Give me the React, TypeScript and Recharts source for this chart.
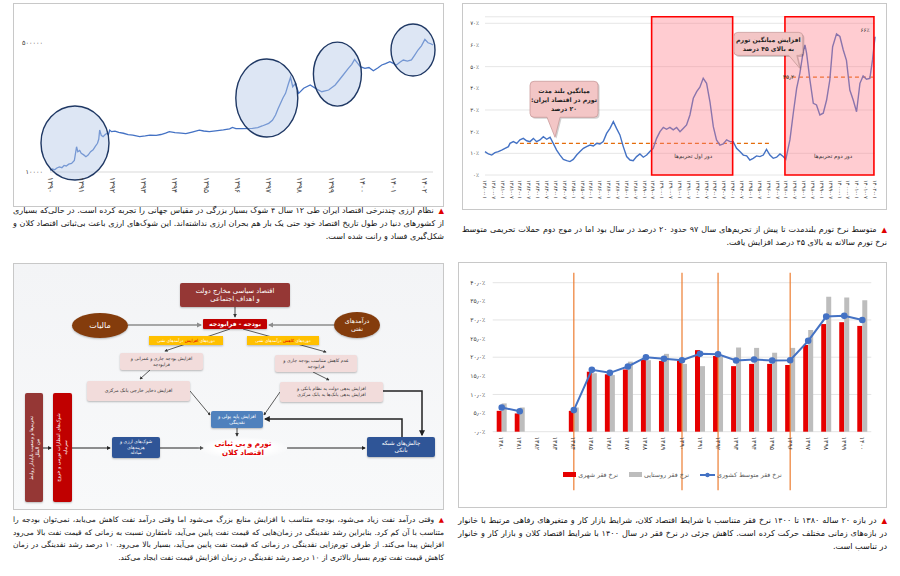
import React from 'react';
import {
  Bar,
  CartesianGrid,
  ComposedChart,
  Legend,
  Line,
  LineChart,
  ReferenceArea,
  ReferenceDot,
  ReferenceLine,
  XAxis,
  YAxis,
} from 'recharts';

const FA_FONT = '"DejaVu Sans", "Noto Sans", sans-serif';
const FA_DIGITS = '۰۱۲۳۴۵۶۷۸۹';
const toFa = (v: string | number) => String(v).replace(/[0-9]/g, (d) => FA_DIGITS[Number(d)]);

// ---------- exchange rate (rial per dollar), 1390 - 1402
const fxYears = [
  1390.0, 1390.08, 1390.15, 1390.22, 1390.3, 1390.38, 1390.45, 1390.52, 1390.6, 1390.69,
  1390.78, 1390.85, 1390.89, 1390.95, 1391.0, 1391.08, 1391.15, 1391.22, 1391.3, 1391.38,
  1391.45, 1391.52, 1391.56, 1391.59, 1391.64, 1391.7, 1391.76, 1391.82, 1391.87, 1391.91,
  1391.97, 1392.08, 1392.2, 1392.35, 1392.5, 1392.65, 1392.87, 1393.05, 1393.2, 1393.4,
  1393.55, 1393.7, 1393.82, 1394.0, 1394.2, 1394.35, 1394.55, 1394.78, 1394.92, 1395.1,
  1395.3, 1395.55, 1395.75, 1395.84, 1395.95, 1396.15, 1396.48, 1396.65, 1396.79, 1397.0,
  1397.12, 1397.22, 1397.3, 1397.38, 1397.46, 1397.54, 1397.62, 1397.7, 1397.77, 1397.86,
  1397.96, 1398.12, 1398.33, 1398.49, 1398.7, 1398.92, 1399.13, 1399.34, 1399.55, 1399.66,
  1399.75, 1399.85, 1399.93, 1400.08, 1400.21, 1400.35, 1400.49, 1400.62, 1400.74, 1400.88,
  1400.99, 1401.09, 1401.2, 1401.31, 1401.44, 1401.57, 1401.68, 1401.78, 1401.89, 1402.0,
  1402.1, 1402.19, 1402.26,
];
const fxRates = [
  10600, 11000, 10700, 11300, 11700, 11400, 12200, 12000, 12700, 13000,
  14200, 21500, 18500, 19200, 17600, 16800, 15900, 16700, 18500, 19600,
  21800, 23900, 27000, 35700, 30500, 29200, 31000, 32400, 31000, 35700,
  34000, 34600, 33200, 32400, 31000, 30700, 29200, 29900, 30700, 30300,
  31200, 32500, 34000, 33000, 32600, 32000, 33600, 35700, 34700, 34000,
  34900, 35900, 37000, 38600, 37200, 37300, 37600, 38500, 40400, 43800,
  48000, 56300, 68000, 80400, 95000, 108800, 140000, 177000, 133000, 147600,
  108800, 126800, 140000, 126800, 114300, 120300, 140000, 180000, 232000, 262000,
  305000, 270000, 244000, 232000, 238000, 216000, 235000, 257000, 268000, 284000,
  270000, 257000, 280000, 299000, 290000, 300000, 350000, 405000, 460000, 560000,
  505000, 490000, 471000,
];
const fxYearTicks = [1390, 1391, 1392, 1393, 1394, 1395, 1396, 1397, 1398, 1399, 1400, 1401, 1402];
const fxRateTicks = [10000, 500000];
// centres of the four currency shocks
const shockYears = [1390.8, 1396.94, 1399.2, 1401.62];
const shockRates = [24100, 94400, 195000, 405000];
const SHOCK_RX = [34, 31, 24, 22];
const SHOCK_RY = [37, 39, 32, 26];

// ---------- inflation (%), 1380 - 1402
const inflTime = [
  1380.0, 1380.19, 1380.38, 1380.56, 1380.75, 1380.94, 1381.13, 1381.32, 1381.41, 1381.6,
  1381.79, 1381.97, 1382.16, 1382.35, 1382.54, 1382.73, 1382.91, 1383.1, 1383.29, 1383.48,
  1383.67, 1383.85, 1384.04, 1384.23, 1384.42, 1384.61, 1384.79, 1384.98, 1385.17, 1385.36,
  1385.55, 1385.73, 1385.92, 1386.11, 1386.3, 1386.48, 1386.67, 1386.86, 1387.05, 1387.24,
  1387.42, 1387.61, 1387.8, 1387.99, 1388.18, 1388.36, 1388.55, 1388.74, 1388.93, 1389.12,
  1389.3, 1389.49, 1389.68, 1389.87, 1390.06, 1390.24, 1390.43, 1390.62, 1390.81, 1391.0,
  1391.18, 1391.37, 1391.56, 1391.75, 1391.94, 1392.12, 1392.31, 1392.5, 1392.69, 1392.88,
  1393.06, 1393.25, 1393.44, 1393.63, 1393.82, 1394.0, 1394.19, 1394.38, 1394.57, 1394.76,
  1394.94, 1395.13, 1395.32, 1395.51, 1395.7, 1395.88, 1396.07, 1396.26, 1396.45, 1396.64,
  1396.82, 1396.97, 1397.2, 1397.39, 1397.58, 1397.76, 1397.95, 1398.05, 1398.14, 1398.33,
  1398.52, 1398.7, 1398.89, 1399.08, 1399.27, 1399.45, 1399.61, 1399.83, 1400.02, 1400.21,
  1400.39, 1400.58, 1400.77, 1400.96, 1401.15, 1401.33, 1401.52, 1401.71, 1401.86, 1402.0,
];
const inflRate = [
  10.8, 9.7, 9.2, 10.3, 10.8, 11.5, 12.3, 13.1, 14.6, 15.4,
  14.6, 16.2, 16.9, 15.8, 15.4, 16.9, 15.4, 16.2, 17.7, 16.5,
  17.4, 14.6, 11.5, 9.2, 7.2, 6.6, 6.2, 7.2, 9.2, 10.8,
  12.3, 13.1, 13.8, 13.4, 14.6, 14.3, 15.4, 19.2, 21.5, 24.6,
  21.5, 18.5, 13.1, 8.5, 6.9, 6.6, 8.5, 9.7, 8.2, 9.2,
  10.8, 12.3, 16.9, 20.0, 22.0, 21.1, 22.0, 20.8, 21.9, 20.0,
  21.5, 23.1, 27.7, 35.4, 38.5, 40.5, 44.6, 42.3, 33.8, 22.3,
  16.2, 13.8, 14.3, 16.2, 15.4, 15.4, 12.3, 10.8, 9.2, 8.8,
  6.9, 7.7, 8.8, 8.5, 9.2, 11.8, 9.2, 7.7, 8.2, 9.7,
  8.5, 7.2, 16.2, 28.5, 40.0, 46.9, 56.9, 60.0, 56.2, 43.8,
  33.1, 32.3, 27.7, 28.5, 34.6, 43.8, 59.2, 65.1, 63.9, 57.7,
  52.9, 39.2, 34.6, 29.2, 42.3, 45.7, 44.2, 44.6, 53.1, 63.8,
];
const inflTicks = [
  1380, 1380.5, 1381, 1381.5, 1382, 1382.5, 1383, 1383.5, 1384, 1384.5, 1385, 1385.5,
  1386, 1386.5, 1387, 1387.5, 1388, 1388.5, 1389, 1389.5, 1390, 1390.5, 1391, 1391.5,
  1392, 1392.5, 1393, 1393.5, 1394, 1394.5, 1395, 1395.5, 1396, 1396.5, 1397, 1397.5,
  1398, 1398.5, 1399, 1399.5, 1400, 1400.5, 1401, 1401.5, 1402,
];
const inflRateTicks = [0, 10, 20, 30, 40, 50, 60, 70];
const sanctionRounds = [
  { from: 1389.4, to: 1393.97, title: 'دور اول تحریم‌ها', at: 1391.75 },
  { from: 1396.92, to: 1401.94, title: 'دور دوم تحریم‌ها', at: 1399.64 },
];
const longRunAvg = { from: 1381.97, to: 1396.1, value: 14.6 };
const secondRoundAvg = { from: 1396.92, to: 1401.9, value: 45.2 };

// ---------- poverty rate (%), 1380 - 1400
const povertyYears = [
  '1380', '1381', '1382', '1383', '1384', '1385', '1386', '1387', '1388', '1389', '1390',
  '1391', '1392', '1393', '1394', '1395', '1396', '1397', '1398', '1399', '1400',
];
const urbanPoverty = [5.6, 4.9, null, null, 5.6, 16.1, 15.4, 16.7, 19.4, 19.0, 19.1, 21.9, 20.3, 17.6, 18.2, 18.2, 17.9, 23.3, 28.9, 29.4, 28.4];
const ruralPoverty = [7.6, 6.5, null, null, 6.5, 15.7, 15.2, 18.8, 19.2, 20.9, 18.2, 17.6, 20.1, 22.6, 22.5, 21.2, 22.5, 27.3, 36.2, 36.0, 35.3];
const nationalPoverty = [6.5, 5.5, null, null, 5.8, 16.6, 15.8, 17.5, 20.0, 19.6, 19.2, 20.9, 20.8, 19.1, 19.4, 19.1, 19.2, 24.4, 30.9, 31.1, 30.0];
const povertyTicks = [0, 5, 10, 15, 20, 25, 30, 35, 40];
const povertySeriesNames = ['نرخ فقر شهری', 'نرخ فقر روستایی', 'نرخ فقر متوسط کشوری'];
const breakYears = ['1384', '1390', '1392', '1396'];

// ---------- helpers
const RotTick = (props: any) => {
  const { x, y, payload, size = 6.5, fmt } = props;
  const label = fmt ? fmt(payload.value) : toFa(payload.value);
  return (
    <text
      x={x}
      y={y}
      transform={`rotate(90 ${x} ${y})`}
      textAnchor="start"
      dominantBaseline="central"
      fontSize={size}
      fill="#3a3a3a"
      fontFamily={FA_FONT}
    >
      {label}
    </text>
  );
};

const halfYearLabel = (t: number) => `${toFa(Math.floor(t))}-${t % 1 ? '۰۷' : '۰۱'}`;

const Panel = ({ left, top, width, height, bg = '#fff', children }: any) => (
  <div
    style={{
      position: 'absolute',
      left,
      top,
      width,
      height,
      boxSizing: 'border-box',
      border: '1px solid #c8c8c8',
      background: bg,
    }}
  >
    <div style={{ position: 'absolute', left: -1, top: -1 }}>{children}</div>
  </div>
);

const Caption = ({ left, top, width, fontSize, lineHeight, children }: any) => (
  <div style={{ position: 'absolute', left, top, width }}>
    <span
      style={{
        position: 'absolute',
        right: 0,
        top: 0,
        lineHeight: `${lineHeight}px`,
        color: '#e00000',
        fontSize: fontSize * 0.9,
        fontFamily: FA_FONT,
      }}
    >
      ▲
    </span>
    <div
      dir="rtl"
      style={{
        fontSize,
        lineHeight: `${lineHeight}px`,
        textAlign: 'justify',
        textIndent: fontSize * 1.3,
        color: '#111',
        fontFamily: FA_FONT,
      }}
    >
      {children}
    </div>
  </div>
);

// ---------- top left: exchange rate
const ExchangeRateChart = () => {
  const data = fxYears.map((t, i) => ({ t, rate: fxRates[i] }));
  return (
    <LineChart width={431} height={204} data={data} margin={{ top: 20.7, right: 11, bottom: 5, left: 0 }}>
      <XAxis
        dataKey="t"
        type="number"
        domain={[1390, 1402.25]}
        ticks={fxYearTicks}
        interval={0}
        tick={<RotTick size={7.5} />}
        tickSize={0}
        tickMargin={5}
        axisLine={{ stroke: '#d9d9d9' }}
        height={30}
      />
      <YAxis
        type="number"
        scale="log"
        domain={[10000, 900000]}
        ticks={fxRateTicks}
        tickFormatter={(v) => toFa(v)}
        axisLine={false}
        tickSize={0}
        tickMargin={7}
        width={37}
        tick={{ fontSize: 6.5, fill: '#3a3a3a', fontFamily: FA_FONT }}
        allowDataOverflow
      />
      <Line type="linear" dataKey="rate" stroke="#4472c4" strokeWidth={1.3} dot={false} isAnimationActive={false} />
      {shockYears.map((yr, i) => (
        <ReferenceDot
          key={yr}
          x={yr}
          y={shockRates[i]}
          r={1}
          ifOverflow="visible"
          shape={(p: any) => (
            <ellipse
              cx={p.cx}
              cy={p.cy}
              rx={SHOCK_RX[i]}
              ry={SHOCK_RY[i]}
              fill="#b4c7e7"
              fillOpacity={0.45}
              stroke="#1f3864"
              strokeWidth={1.4}
            />
          )}
        />
      ))}
    </LineChart>
  );
};

// ---------- top right: inflation
const calloutShape =
  (lines: string[], box: number[], base: number[]) =>
  (props: any) => {
    const { cx, cy } = props;
    const [x0, y0, x1, y1] = box.map((v, i) => (i % 2 === 0 ? cx + v : cy + v));
    const b0 = cx + base[0];
    const b1 = cx + base[1];
    const r = 4;
    const d = `M${x0 + r},${y0} H${x1 - r} Q${x1},${y0} ${x1},${y0 + r} V${y1 - r} Q${x1},${y1} ${x1 - r},${y1} H${b1} L${cx},${cy} L${b0},${y1} H${x0 + r} Q${x0},${y1} ${x0},${y1 - r} V${y0 + r} Q${x0},${y0} ${x0 + r},${y0} Z`;
    const lh = 9;
    const mid = (y0 + y1) / 2 - ((lines.length - 1) * lh) / 2;
    return (
      <g>
        <path d={d} fill="#000" fillOpacity={0.18} transform="translate(1.5 1.5)" />
        <path d={d} fill="#f3c6c6" stroke="#c99a9a" strokeWidth={0.8} />
        {lines.map((l, i) => (
          <text
            key={l}
            x={(x0 + x1) / 2}
            y={mid + i * lh}
            textAnchor="middle"
            dominantBaseline="central"
            direction="rtl"
            fontSize={6.2}
            fontWeight="bold"
            fill="#1d1d1d"
            fontFamily={FA_FONT}
          >
            {l}
          </text>
        ))}
      </g>
    );
  };

const textShape =
  (label: string, size: number, anchor: 'start' | 'middle' | 'end' = 'middle', color = '#333') =>
  (p: any) => (
    <text
      x={p.cx}
      y={p.cy}
      textAnchor={anchor}
      dominantBaseline="central"
      direction="rtl"
      fontSize={size}
      fill={color}
      fontFamily={FA_FONT}
    >
      {label}
    </text>
  );

const InflationChart = () => {
  const data = inflTime.map((t, i) => ({ t, rate: inflRate[i] }));
  return (
    <LineChart width={425} height={207} data={data} margin={{ top: 13.8, right: 12, bottom: 3, left: 0 }}>
      <CartesianGrid vertical={false} stroke="#e6e6e6" />
      <XAxis
        dataKey="t"
        type="number"
        domain={[1380, 1402]}
        ticks={inflTicks}
        interval={0}
        tick={<RotTick size={5.3} fmt={halfYearLabel} />}
        tickSize={0}
        tickMargin={5}
        axisLine={false}
        height={32}
      />
      <YAxis
        type="number"
        domain={[0, 73]}
        ticks={inflRateTicks}
        tickFormatter={(v) => `${toFa(v)}٪`}
        axisLine={false}
        tickSize={0}
        tickMargin={6}
        width={23}
        tick={{ fontSize: 5.5, fill: '#3a3a3a', fontFamily: FA_FONT }}
      />
      <ReferenceLine
        segment={[
          { x: longRunAvg.from, y: longRunAvg.value },
          { x: longRunAvg.to, y: longRunAvg.value },
        ]}
        stroke="#e46c0a"
        strokeDasharray="4 3"
        strokeWidth={1.2}
      />
      <ReferenceLine
        segment={[
          { x: secondRoundAvg.from, y: secondRoundAvg.value },
          { x: secondRoundAvg.to, y: secondRoundAvg.value },
        ]}
        stroke="#e46c0a"
        strokeDasharray="4 3"
        strokeWidth={1.2}
      />
      <Line type="linear" dataKey="rate" stroke="#4472c4" strokeWidth={1.4} dot={false} isAnimationActive={false} />
      {sanctionRounds.map((s) => (
        <ReferenceArea
          key={s.from}
          x1={s.from}
          x2={s.to}
          y1={0}
          y2={73}
          fill="#ff7a86"
          fillOpacity={0.38}
          stroke="#ff0000"
          strokeWidth={1.6}
          ifOverflow="visible"
          zIndex={500}
        />
      ))}
      {sanctionRounds.map((s) => (
        <ReferenceDot key={s.title} x={s.at} y={8.8} r={1} shape={textShape(s.title, 5.6)} zIndex={600} />
      ))}
      <ReferenceDot x={1401.43} y={66.9} r={1} shape={textShape('۶۶٪', 5.6)} zIndex={600} />
      <ReferenceDot
        x={secondRoundAvg.from}
        y={secondRoundAvg.value}
        r={1}
        zIndex={600}
        shape={(p: any) => textShape(toFa('45.2').replace('.', '٫'), 5.8, 'end')({ cx: p.cx - 2, cy: p.cy })}
      />
      <ReferenceDot
        x={1383.95}
        y={17.4}
        r={1}
        ifOverflow="visible"
        zIndex={600}
        shape={calloutShape(['میانگین بلند مدت', 'تورم در اقتصاد ایران:', '۲۰ درصد'], [-25, -56, 43, -20], [-8, 5])}
      />
      <ReferenceDot
        x={1397.76}
        y={49.2}
        r={1}
        ifOverflow="visible"
        zIndex={600}
        shape={calloutShape(['افزایش میانگین تورم', 'به بالای ۴۵ درصد'], [-66, -36, 3, -13], [-11, -3])}
      />
    </LineChart>
  );
};

// ---------- bottom right: poverty
const PovertyLegend = ({ payload }: any) => {
  const items = [...(payload || [])].sort(
    (a: any, b: any) => povertySeriesNames.indexOf(a.value) - povertySeriesNames.indexOf(b.value),
  );
  return (
    <div
      style={{
        display: 'flex',
        justifyContent: 'center',
        gap: 11,
        fontFamily: FA_FONT,
        fontSize: 6.3,
        color: '#595959',
      }}
    >
      {items.map((e: any) => (
        <div key={e.value} style={{ display: 'flex', alignItems: 'center', gap: 2 }}>
          {e.type === 'line' ? (
            <svg width={15} height={6}>
              <line x1={0} y1={3} x2={15} y2={3} stroke={e.color} strokeWidth={2} />
              <circle cx={7.5} cy={3} r={2.2} fill={e.color} />
            </svg>
          ) : (
            <span style={{ display: 'inline-block', width: 13, height: 5, background: e.color }} />
          )}
          <span dir="rtl">{e.value}</span>
        </div>
      ))}
    </div>
  );
};

const PovertyChart = () => {
  const data = povertyYears.map((y, i) => ({
    year: y,
    urban: urbanPoverty[i],
    rural: ruralPoverty[i],
    national: nationalPoverty[i],
  }));
  return (
    <ComposedChart
      width={429}
      height={246}
      data={data}
      margin={{ top: 20.7, right: 15.7, bottom: 56.3, left: 0 }}
      barGap={0}
    >
      <CartesianGrid vertical={false} stroke="#e4e4e4" />
      <XAxis
        dataKey="year"
        interval={0}
        tick={<RotTick size={6.3} />}
        tickSize={0}
        tickMargin={5}
        axisLine={false}
        height={20}
      />
      <YAxis
        type="number"
        domain={[0, 40]}
        ticks={povertyTicks}
        tickFormatter={(v) => `${toFa(v.toFixed(1)).replace('.', '٫')}٪`}
        axisLine={false}
        tickSize={0}
        tickMargin={7.5}
        width={34.7}
        tick={{ fontSize: 6, fill: '#3a3a3a', fontFamily: FA_FONT }}
      />
      <Bar dataKey="urban" name={povertySeriesNames[0]} fill="#e60000" barSize={5} legendType="rect" isAnimationActive={false} />
      <Bar dataKey="rural" name={povertySeriesNames[1]} fill="#bdbdbd" barSize={5} legendType="rect" isAnimationActive={false} />
      <Line
        type="linear"
        dataKey="national"
        name={povertySeriesNames[2]}
        stroke="#4472c4"
        strokeWidth={2}
        dot={{ r: 2.3, fill: '#4472c4', stroke: '#4472c4' }}
        legendType="line"
        isAnimationActive={false}
      />
      {breakYears.map((y) => (
        <ReferenceLine
          key={y}
          segment={[
            { x: y, y: 42.7 },
            { x: y, y: -15.7 },
          ]}
          stroke="#ed7d31"
          strokeWidth={1.2}
          ifOverflow="visible"
        />
      ))}
      <Legend
        layout="horizontal"
        align="center"
        verticalAlign="middle"
        content={<PovertyLegend />}
        wrapperStyle={{ top: 209, left: 0, width: 429 }}
      />
    </ComposedChart>
  );
};

// ---------- bottom left: oil revenue diagram
const Box = ({ x, y, w, h, bg, color = '#fff', fs, bold = false, radius = 2, children }: any) => (
  <div
    dir="rtl"
    style={{
      position: 'absolute',
      left: x,
      top: y,
      width: w,
      height: h,
      background: bg,
      color,
      fontSize: fs,
      fontWeight: bold ? 'bold' : 'normal',
      borderRadius: radius,
      display: 'flex',
      alignItems: 'center',
      justifyContent: 'center',
      textAlign: 'center',
      lineHeight: 1.25,
      boxShadow: '0 1px 2px rgba(0,0,0,0.25)',
    }}
  >
    <div>{children}</div>
  </div>
);

const VBox = ({ x, y, w, h, bg, fs, children }: any) => (
  <div
    style={{
      position: 'absolute',
      left: x,
      top: y,
      width: w,
      height: h,
      background: bg,
      borderRadius: 2,
      boxShadow: '0 1px 2px rgba(0,0,0,0.25)',
    }}
  >
    <div
      dir="rtl"
      style={{
        position: 'absolute',
        left: (w - h) / 2,
        top: (h - w) / 2,
        width: h,
        height: w,
        transform: 'rotate(-90deg)',
        display: 'flex',
        alignItems: 'center',
        justifyContent: 'center',
        textAlign: 'center',
        color: '#fff',
        fontSize: fs,
        lineHeight: 1.3,
      }}
    >
      <div>{children}</div>
    </div>
  </div>
);

const arrows: { d: string; c: string; w: number }[] = [
  { d: 'M235,307 L235,317', c: '#333', w: 0.9 },
  { d: 'M128,325 L201,325', c: '#8c8c8c', w: 1.4 },
  { d: 'M334,325 L269,325', c: '#8c8c8c', w: 1.4 },
  { d: 'M230,329 L165,351', c: '#333', w: 0.8 },
  { d: 'M243,329 L326,352', c: '#333', w: 0.8 },
  { d: 'M150,370 L140,379', c: '#333', w: 0.8 },
  { d: 'M313,372 L329,380', c: '#333', w: 0.8 },
  { d: 'M190,391 L210,415', c: '#333', w: 0.8 },
  { d: 'M280,392 L264,415', c: '#333', w: 0.8 },
  { d: 'M383,391 L422,391 L422,435', c: '#222', w: 1.5 },
  { d: 'M402,437 L402,419 L265,419', c: '#222', w: 1.5 },
  { d: 'M237,428 L237,436', c: '#333', w: 0.9 },
  { d: 'M43,448 L51,448', c: '#222', w: 1 },
  { d: 'M72,448 L110,448', c: '#222', w: 1 },
  { d: 'M160,448 L203,448', c: '#222', w: 1 },
  { d: 'M287,448 L365,448', c: '#222', w: 1 },
];

const OilDiagram = () => (
  <div style={{ position: 'absolute', left: 0, top: 0, width: 900, height: 576, fontFamily: FA_FONT }}>
    <svg width={900} height={576} style={{ position: 'absolute', left: 0, top: 0 }}>
      <defs>
        <marker id="ah" viewBox="0 0 10 10" refX="8" refY="5" markerWidth="4" markerHeight="4" orient="auto">
          <path d="M0,0 L10,5 L0,10 Z" fill="context-stroke" />
        </marker>
        <radialGradient id="glow">
          <stop offset="60%" stopColor="#fff" stopOpacity={1} />
          <stop offset="100%" stopColor="#fff" stopOpacity={0} />
        </radialGradient>
      </defs>
      {arrows.map((a) => (
        <path key={a.d} d={a.d} fill="none" stroke={a.c} strokeWidth={a.w} markerEnd="url(#ah)" />
      ))}
      <ellipse cx={243} cy={448} rx={46} ry={11} fill="url(#glow)" />
    </svg>
    <Box x={180} y={283} w={110} h={24} bg="#953735" fs={6.8}>
      اقتصاد سیاسی مخارج دولت
      <br />و اهداف اجتماعی
    </Box>
    <Box x={203} y={319} w={64} h={10} bg="#c00000" fs={6.2} bold radius={1}>
      بودجه - فرابودجه
    </Box>
    <Box x={72} y={313} w={56} h={25} bg="#843c0c" fs={8} radius={'50%'}>
      مالیات
    </Box>
    <Box x={334} y={312} w={46} h={26} bg="#843c0c" fs={6.3} radius={'50%'}>
      درآمدهای
      <br />
      نفتی
    </Box>
    <Box x={149} y={336} w={74} h={9} bg="#ffc000" fs={4.3} radius={0}>
      دوره‌های <span style={{ color: '#e00000' }}>افزایش</span> درآمدهای نفتی
    </Box>
    <Box x={247} y={336} w={72} h={9} bg="#ffc000" fs={4.3} radius={0}>
      دوره‌های <span style={{ color: '#e00000' }}>کاهش</span> درآمدهای نفتی
    </Box>
    <Box x={120} y={353} w={83} h={17} bg="#f2dcdb" color="#333" fs={4.6}>
      افزایش بودجه جاری و عمرانی و
      <br />
      فرابودجه
    </Box>
    <Box x={275} y={355} w={82} h={17} bg="#f2dcdb" color="#333" fs={4.6}>
      عدم کاهش متناسب بودجه جاری و
      <br />
      فرابودجه
    </Box>
    <Box x={87} y={381} w={103} h={20} bg="#f2dcdb" color="#333" fs={4.8}>
      افزایش ذخایر خارجی بانک مرکزی
    </Box>
    <Box x={280} y={382} w={103} h={20} bg="#f2dcdb" color="#333" fs={4.6}>
      افزایش بدهی دولت به نظام بانکی و
      <br />
      افزایش بدهی بانک‌ها به بانک مرکزی
    </Box>
    <Box x={211} y={411} w={52} h={17} bg="#4f81bd" fs={4.8}>
      افزایش پایه پولی و
      <br />
      نقدینگی
    </Box>
    <Box x={112} y={437} w={48} h={21} bg="#2f5597" fs={4.6}>
      شوک‌های ارزی و
      <br />
      هزینه‌های
      <br />
      مبادله
    </Box>
    <Box x={367} y={437} w={68} h={20} bg="#2f5597" fs={5.8}>
      چالش‌های شبکه
      <br />
      بانکی
    </Box>
    <div
      dir="rtl"
      style={{
        position: 'absolute',
        left: 200,
        top: 439,
        width: 86,
        textAlign: 'center',
        color: '#e00000',
        fontWeight: 'bold',
        fontSize: 7.2,
        lineHeight: 1.25,
      }}
    >
      تورم و بی ثباتی
      <br />
      اقتصاد کلان
    </div>
    <VBox x={25} y={393} w={18} h={109} bg="#953735" fs={4.8}>
      تحریم‌ها و وضعیت ناپایدار روابط
      <br />
      بین الملل
    </VBox>
    <VBox x={53} y={393} w={19} h={109} bg="#c00000" fs={4.8}>
      شوک‌های انتظارات تورمی و خروج
      <br />
      سرمایه
    </VBox>
  </div>
);

export default function App() {
  return (
    <div
      style={{
        position: 'absolute',
        left: 0,
        top: 0,
        width: 900,
        height: 576,
        background: '#fff',
        overflow: 'hidden',
        fontFamily: FA_FONT,
      }}
    >
      <Panel left={13} top={3} width={431} height={204}>
        <ExchangeRateChart />
      </Panel>
      <Panel left={462} top={3} width={425} height={207}>
        <InflationChart />
      </Panel>
      <Panel left={13} top={263} width={431} height={247} bg="linear-gradient(#f3f4f6, #f8f9fa)" />
      <OilDiagram />
      <Panel left={458} top={262} width={429} height={246}>
        <PovertyChart />
      </Panel>

      <Caption left={13} top={204} width={431} fontSize={8} lineHeight={13.2}>
        نظام ارزی چندنرخی اقتصاد ایران طی ۱۲ سال ۴ شوک بسیار بزرگی در مقیاس جهانی را تجربه کرده است. در حالی‌که بسیاری از
        کشورهای دنیا در طول تاریخ اقتصاد خود حتی یک بار هم بحران ارزی نداشته‌اند. این شوک‌های ارزی باعث بی‌ثباتی اقتصاد کلان و
        شکل‌گیری فساد و رانت شده است.
      </Caption>
      <Caption left={462} top={222.5} width={425} fontSize={8} lineHeight={13}>
        متوسط نرخ تورم بلندمدت تا پیش از تحریم‌های سال ۹۷ حدود ۲۰ درصد در سال بود اما در موج دوم حملات تحریمی متوسط نرخ تورم
        سالانه به بالای ۴۵ درصد افزایش یافت.
      </Caption>
      <Caption left={13} top={514} width={431} fontSize={7.5} lineHeight={12.5}>
        وقتی درآمد نفت زیاد می‌شود، بودجه متناسب با افزایش منابع بزرگ می‌شود اما وقتی درآمد نفت کاهش می‌یابد، نمی‌توان بودجه را
        متناسب با آن کم کرد. بنابراین رشد نقدینگی در زمان‌هایی که قیمت نفت پایین می‌آید، نامتقارن نسبت به زمانی که قیمت نفت بالا
        می‌رود افزایش پیدا می‌کند. از طرفی تورم‌زایی نقدینگی در زمانی که قیمت نفت پایین می‌آید، بسیار بالا می‌رود. ۱۰ درصد رشد
        نقدینگی در زمان کاهش قیمت نفت تورم بسیار بالاتری از ۱۰ درصد رشد نقدینگی در زمان افزایش قیمت نفت ایجاد می‌کند.
      </Caption>
      <Caption left={458} top={513.5} width={429} fontSize={8.1} lineHeight={13}>
        در بازه ۲۰ ساله ۱۳۸۰ تا ۱۴۰۰ نرخ فقر متناسب با شرایط اقتصاد کلان، شرایط بازار کار و متغیرهای رفاهی مرتبط با خانوار در
        بازه‌های زمانی مختلف حرکت کرده است. کاهش جزئی در نرخ فقر در سال ۱۴۰۰ با شرایط اقتصاد کلان و بازار کار و خانوار در تناسب
        است.
      </Caption>
    </div>
  );
}
